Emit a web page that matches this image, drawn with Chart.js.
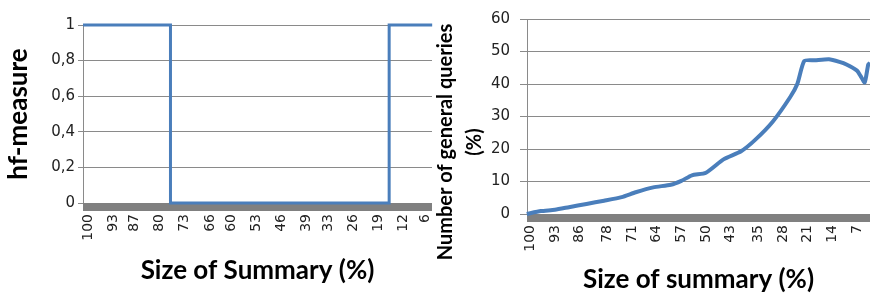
<!DOCTYPE html>
<html>
<head>
<meta charset="utf-8">
<script src="https://cdn.jsdelivr.net/npm/chart.js@4/dist/chart.umd.min.js"></script>
<style>
  html, body { margin: 0; padding: 0; background: #fff; }
  .box { position: absolute; top: 0; width: 435px; height: 295px; }
  #leftBox { left: 0; }
  #rightBox { left: 435px; }
</style>
</head>
<body>
<div class="box" id="leftBox"><canvas id="hfChart" width="435" height="295"></canvas></div>
<div class="box" id="rightBox"><canvas id="queryChart" width="435" height="295"></canvas></div>
<script>
// left chart: hf-measure against size of summary
const leftSizes = [101.4, 77, 77, 16, 16, 4];
const leftHf = [1, 1, 0, 0, 1, 1];
const leftTickLabels = [100, 93, 87, 80, 73, 66, 60, 53, 46, 39, 33, 26, 19, 12, 6];

// right chart: share of general queries (%)
const rightSizes = [101, 97, 93, 89, 84, 79, 74, 70, 65, 60, 57, 54, 50, 45, 40, 36, 31, 26, 24, 22, 19, 15, 12, 10, 7, 6, 4.8, 3.8, 3.3];
const rightQueries = [0, 0.9, 1.3, 2.1, 3.1, 4.1, 5.2, 6.7, 8.2, 9.0, 10.2, 11.9, 12.7, 16.8, 19.3, 22.8, 28.4, 36, 40, 47.1, 47.3, 47.6, 46.8, 46.0, 44.1, 42.5, 40.5, 46, 46.5];
const rightTickLabels = [100, 93, 86, 78, 71, 64, 57, 50, 43, 35, 28, 21, 14, 7];

const lineBlue = '#4a7ebb';
const gridGray = '#8a8a8a';
const tickFont = { family: 'DejaVu Sans', size: 14 };
const titleFont = { family: 'Lato', size: 26, weight: 'bold' };

// grey floor under the zero line (Excel 3D look)
const floorBand = {
  id: 'floorBand',
  beforeDatasetsDraw(chart) {
    const { ctx, chartArea } = chart;
    ctx.save();
    ctx.fillStyle = '#808080';
    ctx.fillRect(chartArea.left, chartArea.bottom, chartArea.right - chartArea.left, 8);
    ctx.restore();
  }
};

// y title that is not centred on the plot area
const sideTitle = {
  id: 'sideTitle',
  afterDraw(chart, args, opts) {
    if (!opts.lines) return;
    const ctx = chart.ctx;
    ctx.save();
    ctx.fillStyle = '#000';
    ctx.font = opts.font;
    ctx.textAlign = 'center';
    ctx.textBaseline = 'middle';
    opts.lines.forEach((line, i) => {
      ctx.save();
      ctx.translate(opts.x[i], opts.y);
      ctx.rotate(-Math.PI / 2);
      ctx.fillText(line, 0, 0);
      ctx.restore();
    });
    ctx.restore();
  }
};

let makeXAxis = (min, max, labels, height, titleText, titlePad) => ({
  type: 'linear',
  reverse: true,
  min: min,
  max: max,
  afterBuildTicks: (scale) => { scale.ticks = labels.map(v => ({ value: v })); },
  afterFit: (scale) => {
    scale.height = height;
    // let the plot run to the edge, labels sit inside anyway
    scale.paddingLeft = 0;
    scale.paddingRight = 0;
  },
  grid: { display: false, drawTicks: false },
  border: { display: false },
  ticks: {
    autoSkip: false,
    minRotation: 90,
    maxRotation: 90,
    padding: 11,
    color: '#222',
    font: tickFont,
    callback: (v) => String(v)
  },
  title: {
    display: true,
    text: titleText,
    color: '#000',
    font: titleFont,
    padding: { top: 0, bottom: titlePad }
  }
});

let hfChart = new Chart(document.getElementById('hfChart').getContext('2d'), {
  type: 'line',
  data: {
    datasets: [{
      data: leftSizes.map((s, i) => ({ x: s, y: leftHf[i] })),
      borderColor: lineBlue,
      borderWidth: 3,
      pointRadius: 0,
      tension: 0,
      clip: false
    }]
  },
  options: {
    responsive: false,
    animation: false,
    layout: { padding: { top: 25, right: 3, left: 0, bottom: 0 } },
    plugins: { legend: { display: false }, tooltip: { enabled: false } },
    scales: {
      x: makeXAxis(4.05, 101.4, leftTickLabels, 92, 'Size of Summary (%)', 9),
      y: {
        min: 0,
        max: 1,
        afterFit: (scale) => { scale.width = 83; },
        ticks: {
          stepSize: 0.2,
          padding: 3,
          color: '#222',
          font: { family: 'DejaVu Sans', size: 15 },
          callback: (v) => (Number.isInteger(v) ? String(v) : v.toFixed(1).replace('.', ','))
        },
        grid: { color: gridGray, tickLength: 5 },
        border: { color: gridGray },
        title: {
          display: true,
          text: 'hf-measure',
          color: '#000',
          font: titleFont,
          padding: { top: 3, bottom: 0 }
        }
      }
    }
  },
  plugins: [floorBand]
});

let queryChart = new Chart(document.getElementById('queryChart').getContext('2d'), {
  type: 'line',
  data: {
    datasets: [{
      data: rightSizes.map((s, i) => ({ x: s, y: rightQueries[i] })),
      borderColor: lineBlue,
      borderWidth: 4,
      pointRadius: 0,
      tension: 0.2,
      clip: false
    }]
  },
  options: {
    responsive: false,
    animation: false,
    layout: { padding: { top: 16, right: 0, left: 0, bottom: 0 } },
    plugins: {
      legend: { display: false },
      tooltip: { enabled: false },
      sideTitle: {
        lines: ['Number of general queries', '(%)'],
        x: [11, 40],
        y: 142,
        font: 'bold 20px Lato'
      }
    },
    scales: {
      x: makeXAxis(3.3, 100.94, rightTickLabels, 81, 'Size of summary (%)', 0),
      y: {
        min: 0,
        max: 60,
        afterFit: (scale) => { scale.width = 92; },
        ticks: { stepSize: 10, padding: 10, color: '#222', font: { family: 'DejaVu Sans', size: 15 } },
        grid: { color: gridGray, tickLength: 7 },
        border: { color: gridGray }
      }
    }
  },
  plugins: [floorBand, sideTitle]
});
</script>
</body>
</html>
